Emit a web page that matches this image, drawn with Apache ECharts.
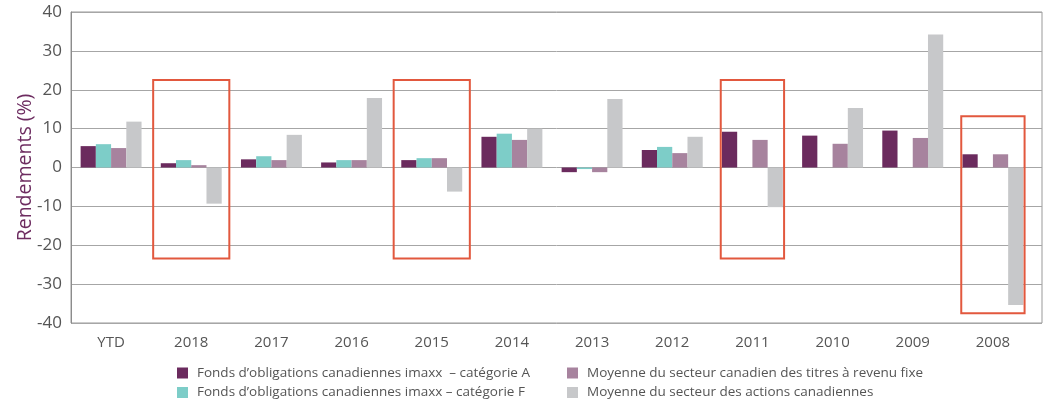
<!DOCTYPE html>
<html>
<head>
<meta charset="utf-8">
<script src="https://cdn.jsdelivr.net/npm/echarts@6/dist/echarts.min.js"></script>
<style>
  html, body { margin: 0; padding: 0; background: #fff; }
  #chart { width: 1046px; height: 404px; }
</style>
</head>
<body>
<div id="chart"></div>
<script>
// données
var categories = ['YTD', '2018', '2017', '2016', '2015', '2014', '2013', '2012', '2011', '2010', '2009', '2008'];
var seriesNames = [
  'Fonds d\u2019obligations canadiennes imaxx  \u2013 cat\u00e9gorie A',
  'Fonds d\u2019obligations canadiennes imaxx \u2013 cat\u00e9gorie F',
  'Moyenne du secteur canadien des titres \u00e0 revenu fixe',
  'Moyenne du secteur des actions canadiennes'
];
var fundA   = [5.5, 1.1, 2.1, 1.3, 1.9, 7.9, -1.2, 4.5, 9.2, 8.2, 9.5, 3.4];
var fundF   = [6.0, 1.9, 2.9, 1.9, 2.4, 8.7, -0.4, 5.3, null, null, null, null];
var fixedAvg  = [5.0, 0.6, 1.9, 1.9, 2.4, 7.1, -1.2, 3.7, 7.1, 6.1, 7.6, 3.4];
var equityAvg = [11.8, -9.3, 8.4, 17.9, -6.2, 10.0, 17.6, 7.9, -10.2, 15.3, 34.2, -35.4];
var yTicks = [-40, 40, 10];

// encadrés rouges (plages en %)
var boxYears   = ['2018', '2015', '2011', '2008'];
var boxTops    = [22.5, 22.5, 22.5, 13.2];
var boxBottoms = [-23.4, -23.4, -23.4, -37.5];

// mise en forme
var colors = ['#6b2b5e', '#7dcdc8', '#a7839e', '#c7c8ca'];
var boxSpan = [0.95, 0.95, 0.79, 0.79];
var legendPos = [[177, 366], [177, 385.5], [567, 366], [567, 385.5]];
var font = '"Open Sans", Lato, sans-serif';

var chart = echarts.init(document.getElementById('chart'));

var values = [fundA, fundF, fixedAvg, equityAvg];
var series = [];
for (var i = 0; i < values.length; i++) {
  series.push({
    name: seriesNames[i],
    type: 'bar',
    xAxisIndex: 1,
    yAxisIndex: 1,
    data: values[i],
    barGap: 0,
    barCategoryGap: '24%',
    itemStyle: { color: colors[i] }
  });
}

var boxData = [];
for (var j = 0; j < boxYears.length; j++) {
  boxData.push([categories.indexOf(boxYears[j]), boxTops[j], boxBottoms[j], boxSpan[j]]);
}
series.push({
  type: 'custom',
  xAxisIndex: 1,
  yAxisIndex: 1,
  z: 5,
  silent: true,
  data: boxData,
  renderItem: function (params, api) {
    var idx = api.value(0);
    var top = api.coord([idx, api.value(1)]);
    var bot = api.coord([idx, api.value(2)]);
    var w = api.size([1, 0])[0] * api.value(3);
    return {
      type: 'rect',
      shape: { x: top[0] - w / 2, y: top[1], width: w, height: bot[1] - top[1] },
      style: { fill: 'none', stroke: '#e2583e', lineWidth: 2 }
    };
  }
});

// une légende par élément (2 colonnes x 2 lignes)
var legends = [];
for (var k = 0; k < seriesNames.length; k++) {
  legends.push({
    data: [seriesNames[k]],
    left: legendPos[k][0], top: legendPos[k][1],
    padding: 0,
    itemWidth: 11, itemHeight: 11,
    icon: 'rect', selectedMode: false,
    textStyle: { fontFamily: font, fontSize: 13.5, color: '#555', padding: [0, 0, 0, 4] }
  });
}

chart.setOption({
  animation: false,
  textStyle: { fontFamily: font },
  grid: [
    { left: 71, top: 12, width: 971, height: 311, show: true, borderColor: '#999', borderWidth: 1 },
    { left: 71, top: 12, width: 962, height: 311 }
  ],
  legend: legends,
  xAxis: [
    { type: 'value', gridIndex: 0, show: false, min: 0, max: 1 },
    {
      type: 'category', gridIndex: 1, data: categories,
      axisLine: { show: false, onZero: false },
      axisTick: { show: false },
      axisLabel: { margin: 12, fontSize: 15, color: '#555', fontFamily: font }
    }
  ],
  yAxis: [
    {
      type: 'value', gridIndex: 0,
      min: yTicks[0], max: yTicks[1], interval: yTicks[2],
      name: 'Rendements (%)', nameLocation: 'middle', nameGap: 36,
      nameMoveOverlap: false,
      nameTextStyle: { color: '#6d2c60', fontSize: 19.5, fontFamily: font },
      axisLine: { show: true, lineStyle: { color: '#8c8c8c' } },
      axisTick: { show: false },
      axisLabel: { margin: 9, fontSize: 17, color: '#555', fontFamily: font },
      splitLine: { lineStyle: { color: '#a6a6a6' } }
    },
    {
      type: 'value', gridIndex: 1, show: false,
      min: yTicks[0], max: yTicks[1], interval: yTicks[2],
      splitLine: { show: false }
    }
  ],
  series: series
});
</script>
</body>
</html>
